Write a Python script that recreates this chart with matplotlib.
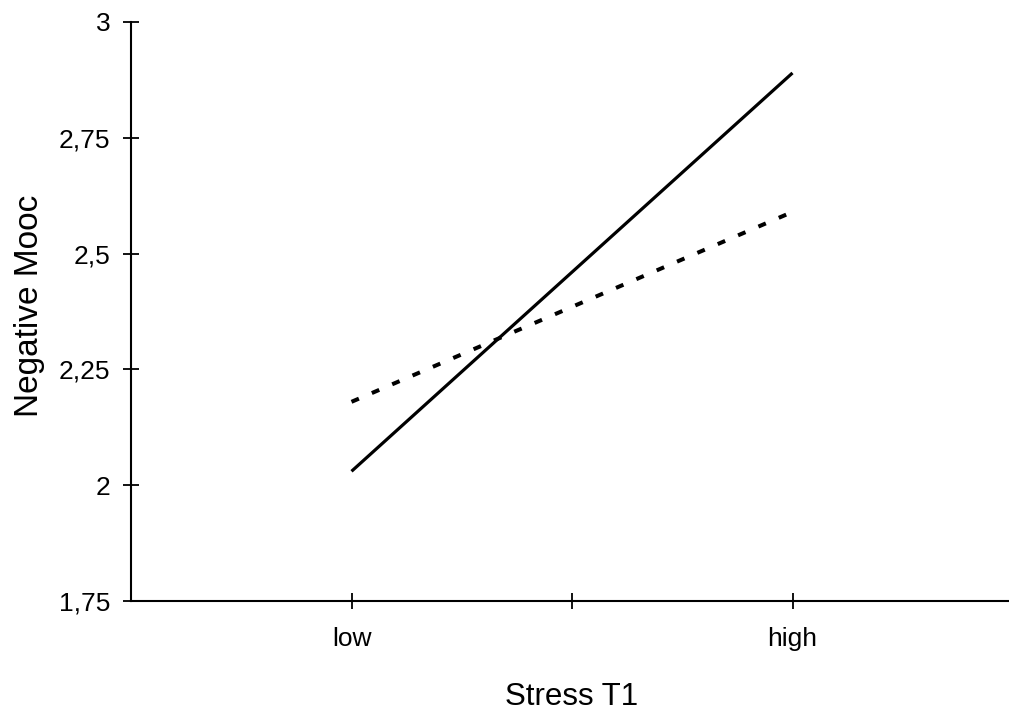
import matplotlib
matplotlib.use('Agg')
import matplotlib.pyplot as plt

plt.rcParams['font.family'] = ['Liberation Sans', 'DejaVu Sans']

## data
x_pos = [1, 3]
x_ticks = [1, 2, 3]
x_ticklabels = ['low', '', 'high']
y_ticks = [1.75, 2.0, 2.25, 2.5, 2.75, 3.0]
y_ticklabels = ['1,75', '2', '2,25', '2,5', '2,75', '3']
solid_vals = [2.03, 2.89]
dashed_vals = [2.18, 2.59]

fig = plt.figure(figsize=(10.09, 7.18), dpi=100)
ax = fig.add_axes([131 / 1009, 117 / 718, 882 / 1009, 579 / 718])

ax.plot(x_pos, solid_vals, color='black', linewidth=2.3, solid_capstyle='butt')
ax.plot(x_pos, dashed_vals, color='black', linewidth=2.9, linestyle=(0, (2.0, 3.5)),
        dash_capstyle='butt')

ax.set_xlim(0, 4)
ax.set_ylim(1.75, 3.0)
ax.set_xticks(x_ticks)
ax.set_xticklabels(x_ticklabels)
ax.set_yticks(y_ticks)
ax.set_yticklabels(y_ticklabels)

for s in ['top', 'right']:
    ax.spines[s].set_visible(False)
for s in ['left', 'bottom']:
    ax.spines[s].set_linewidth(1.5)

ax.tick_params(direction='inout', length=12, width=1.3, labelsize=19)
ax.tick_params(axis='x', pad=13)
ax.tick_params(axis='y', pad=9)

ax.set_xlabel('Stress T1', fontsize=22.5)
ax.set_ylabel('Negative Mooc', fontsize=24)
ax.xaxis.set_label_coords(0.5, -0.14)
ax.yaxis.set_label_coords(-0.098, 0.51)

plt.savefig('out.png', dpi=100)
